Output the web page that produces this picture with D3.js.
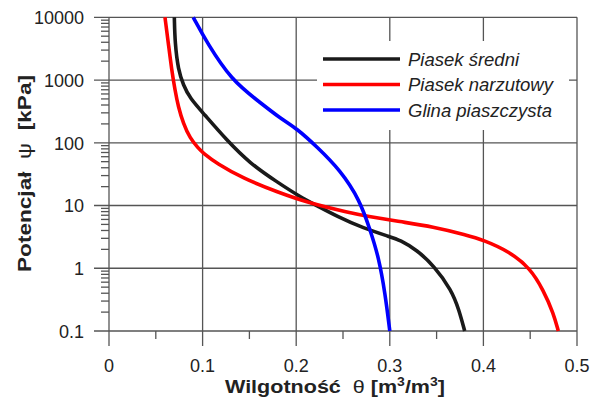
<!DOCTYPE html>
<html lang="pl">
<head>
  <meta charset="UTF-8" />
  <title>Krzywe retencji</title>
  <script src="https://d3js.org/d3.v7.min.js"></script>
<style>
  body{ margin:0; background:#fff; }
  text{ font-family:"Liberation Sans", Arial, sans-serif; fill:#222; }
  .grid{ stroke:#555; stroke-width:1.3; fill:none; }
  .curve{ fill:none; stroke-width:3.6; stroke-linejoin:round; }
</style>
</head>
<body>
<script type="text/javascript">
// theta [m3/m3], psi [kPa]
var sredni = [[0.0698,10000],[0.0705,3850],[0.0740,1445],[0.0794,834],[0.0865,512],[0.1008,295],
  [0.1257,110],[0.1506,47],[0.1790,24],[0.2040,13.8],[0.2220,10],[0.2430,6.8],
  [0.2720,4.33],[0.3000,3.18],[0.3110,2.82],[0.3290,1.95],[0.3470,1.1],[0.3660,0.45],[0.3740,0.216],[0.3800,0.1]];
var narzutowy = [[0.0598,10000],[0.0634,3850],[0.0670,1445],[0.0705,693],[0.0740,376],[0.0794,204],
  [0.0865,118],[0.0954,82],[0.1008,68],[0.1150,47],[0.1435,27],[0.1790,16.6],[0.2150,10.8],
  [0.2570,7.7],[0.2750,6.8],[0.3110,5.52],[0.3460,4.6],[0.3820,3.39],[0.4000,2.82],[0.4280,1.84],
  [0.4500,1.0],[0.4640,0.45],[0.4750,0.19],[0.4800,0.1]];
var glina = [[0.0900,10000],[0.1050,3850],[0.1310,1000],[0.1580,481],[0.1830,245],[0.2005,170],
  [0.2220,86.7],[0.2470,36.8],[0.2680,12.2],[0.2790,4.07],[0.2880,1.53],[0.2950,0.4],[0.3000,0.1]];

var seriesNames = ["Piasek średni","Piasek narzutowy","Glina piaszczysta"];
var seriesColors = ["#1a1a1a","#ff0000","#0000ff"];
var seriesData = [sredni, narzutowy, glina];

var xTicks = [0,0.1,0.2,0.3,0.4,0.5];
var xMinor = [0.05,0.15,0.25,0.35,0.45];
var yTicks = [0.1,1,10,100,1000,10000];
var yTickLabels = ["0.1","1","10","100","1000","10000"];

var width=591, height=401;
var pl=109, pr=577, pt=17.3, pb=331;

var svg = d3.select("body").append("svg").attr("width", width).attr("height", height);

var x = d3.scaleLinear().domain([0,0.5]).range([pl,pr]);
var y = d3.scaleLog().domain([0.1,10000]).range([pb,pt]);

// minor log ticks on the left
var minor = [];
yTicks.slice(0,-1).forEach(function(t){
  for(var k=2;k<10;k++) minor.push(t*k);
});

svg.append("g").selectAll("line").data(minor).enter().append("line")
  .attr("class","grid")
  .attr("x1",pl-8).attr("x2",pl)
  .attr("y1",function(d){return y(d);}).attr("y2",function(d){return y(d);});

// horizontal grid + major ticks
svg.append("g").selectAll("line").data(yTicks).enter().append("line")
  .attr("class","grid")
  .attr("x1",pl-15).attr("x2",pr)
  .attr("y1",function(d){return y(d);}).attr("y2",function(d){return y(d);});

// vertical grid + major ticks
svg.append("g").selectAll("line").data(xTicks).enter().append("line")
  .attr("class","grid")
  .attr("x1",function(d){return x(d);}).attr("x2",function(d){return x(d);})
  .attr("y1",pt).attr("y2",pb+15);

svg.append("g").selectAll("line").data(xMinor).enter().append("line")
  .attr("class","grid")
  .attr("x1",function(d){return x(d);}).attr("x2",function(d){return x(d);})
  .attr("y1",pb).attr("y2",pb+8);

// tick labels
svg.append("g").selectAll("text").data(yTicks).enter().append("text")
  .attr("x",84).attr("y",function(d){return y(d)+6.8;})
  .attr("text-anchor","end").style("font-size","18px")
  .text(function(d,i){return yTickLabels[i];});

svg.append("g").selectAll("text").data(xTicks).enter().append("text")
  .attr("x",function(d){return x(d);}).attr("y",372)
  .attr("text-anchor","middle").style("font-size","18px")
  .text(function(d){return d===0 ? "0" : d3.format(".1f")(d);});

// curves
svg.append("clipPath").attr("id","plot").append("rect")
  .attr("x",pl).attr("y",pt-2).attr("width",pr-pl).attr("height",pb-pt+4);

var line = d3.line()
  .x(function(d){return x(d[0]);})
  .y(function(d){return y(d[1]);})
  .curve(d3.curveBasis);

svg.append("g").attr("clip-path","url(#plot)").selectAll("path").data(seriesData).enter().append("path")
  .attr("class","curve")
  .attr("stroke",function(d,i){return seriesColors[i];})
  .attr("d",line);

// legend
var lg = svg.append("g");
lg.append("rect").attr("x",317).attr("y",41).attr("width",252).attr("height",89).attr("fill","#fff");
seriesNames.forEach(function(n,i){
  var yy = 59 + i*25.5;
  lg.append("line").attr("x1",323).attr("x2",400).attr("y1",yy).attr("y2",yy)
    .attr("stroke",seriesColors[i]).attr("stroke-width",3.6);
  lg.append("text").attr("x",408).attr("y",yy+6.8)
    .style("font-size","18.5px").style("font-style","italic").text(n);
});

// axis titles
var xt = svg.append("text").attr("x",225).attr("y",393)
  .attr("textLength",220).attr("lengthAdjust","spacingAndGlyphs")
  .style("font-size","18.5px").style("font-weight","bold");
xt.append("tspan").text("Wilgotność\u00a0\u00a0");
xt.append("tspan").style("font-weight","normal").text("θ");
xt.append("tspan").text(" [m");
xt.append("tspan").attr("dy",-7).style("font-size","12px").text("3");
xt.append("tspan").attr("dy",7).text("/m");
xt.append("tspan").attr("dy",-7).style("font-size","12px").text("3");
xt.append("tspan").attr("dy",7).text("]");

var yt = svg.append("text").attr("transform","translate(31,272) rotate(-90)")
  .attr("x",0).attr("y",0)
  .attr("textLength",197).attr("lengthAdjust","spacingAndGlyphs")
  .style("font-size","19px").style("font-weight","bold");
yt.append("tspan").text("Potencjał\u00a0\u00a0");
yt.append("tspan").style("font-weight","normal").text("ψ");
yt.append("tspan").text("\u00a0\u00a0[kPa]");
</script>
</body>
</html>
